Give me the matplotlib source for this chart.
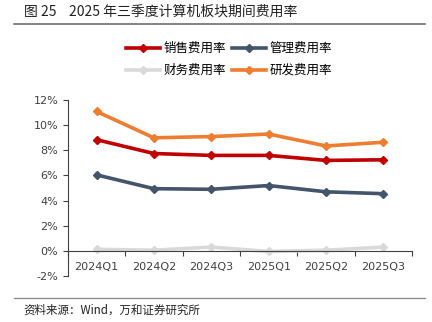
import numpy as np
import matplotlib
matplotlib.use("Agg")
import matplotlib.pyplot as plt
from matplotlib.ticker import FuncFormatter, FixedLocator

plt.rcParams['font.family'] = ['Noto Sans CJK SC', 'DejaVu Sans']
plt.rcParams['axes.unicode_minus'] = True

quarters = ['2024Q1', '2024Q2', '2024Q3', '2025Q1', '2025Q2', '2025Q3']
sales = [8.85, 7.75, 7.6, 7.6, 7.2, 7.25]        # 销售费用率
admin = [6.05, 4.95, 4.9, 5.2, 4.7, 4.55]        # 管理费用率
finance = [0.12, 0.05, 0.3, -0.05, 0.05, 0.3]    # 财务费用率
rnd = [11.1, 9.0, 9.1, 9.3, 8.35, 8.65]          # 研发费用率

fig = plt.figure(figsize=(4.32, 3.22), dpi=100)
ax = fig.add_axes([0.157, 0.143, 0.797, 0.546])

x = np.arange(len(quarters))
lw = 2.6
h_sales, = ax.plot(x, sales, color='#C00000', lw=lw, marker='D', ms=4, label='销售费用率')
h_admin, = ax.plot(x, admin, color='#44546A', lw=lw, marker='D', ms=4, label='管理费用率')
h_fin, = ax.plot(x, finance, color='#D9D9D9', lw=lw, marker='D', ms=4, label='财务费用率')
h_rnd, = ax.plot(x, rnd, color='#ED7D31', lw=lw, marker='D', ms=4, label='研发费用率')

ax.set_xlim(-0.5, len(quarters) - 0.5)
ax.set_ylim(-2, 12)
ax.set_yticks(np.arange(-2, 13, 2))
ax.yaxis.set_major_formatter(FuncFormatter(lambda v, p: f'{v:.0f}%'))

ax.spines['top'].set_visible(False)
ax.spines['right'].set_visible(False)
ax.spines['bottom'].set_position(('data', 0))
for s in ['left', 'bottom']:
    ax.spines[s].set_color('#404040')
    ax.spines[s].set_linewidth(0.8)

ax.set_xticks(x)
ax.set_xticklabels(quarters)
ax.xaxis.set_minor_locator(FixedLocator(np.arange(-0.5, len(quarters), 1)))
ax.tick_params(axis='x', which='major', length=0, pad=8, labelsize=8, labelcolor='#404040')
ax.tick_params(axis='x', which='minor', length=3.5, direction='out', color='#404040', width=0.8)
ax.tick_params(axis='y', length=3.5, width=0.8, color='#404040', labelsize=8, labelcolor='#404040')
for t in ax.get_xticklabels() + ax.get_yticklabels():
    t.set_fontfamily(['DejaVu Sans'])

fig.legend([h_sales, h_fin, h_admin, h_rnd],
           ['销售费用率', '财务费用率', '管理费用率', '研发费用率'],
           ncol=2, loc='center', bbox_to_anchor=(0.53, 0.815), frameon=False,
           fontsize=9, handlelength=2.7, columnspacing=0.5, handletextpad=0.3,
           labelspacing=0.7)

fig.text(0.055, 0.963, '图 25    2025 年三季度计算机板块期间费用率', fontsize=10,
         va='center', ha='left', color='#222222')
fig.add_artist(plt.Line2D([0.032, 0.984], [0.925, 0.925], color='#707070', lw=1.2))
fig.add_artist(plt.Line2D([0.032, 0.984], [0.075, 0.075], color='#909090', lw=1.0))
fig.text(0.055, 0.037, '资料来源：Wind，万和证券研究所', fontsize=8.3,
         va='center', ha='left', color='#222222')

fig.savefig('out.png', dpi=100)
